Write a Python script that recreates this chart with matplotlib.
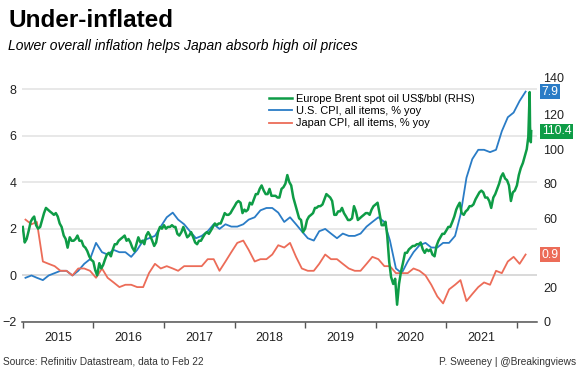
import numpy as np
import pandas as pd

import matplotlib
matplotlib.use('Agg')

import matplotlib.pyplot as plt
import matplotlib.dates as mdates
import matplotlib.ticker as mtick
import matplotlib.transforms as mtrans

plt.rcParams['font.family'] = ['Liberation Sans', 'DejaVu Sans']

# Dated Brent, US$/bbl, sampled on the 1st, 11th and 21st of each month
brent_2015 = [55, 46, 48, 53, 58, 60, 61, 56, 54, 55, 59, 63, 66, 65, 64, 63, 62, 63,
              61, 57, 55, 50, 48, 43, 49, 47, 47, 48, 50, 47, 47, 44, 43, 41, 38, 36]
brent_2016 = [35, 30, 27, 34, 31, 33, 36, 39, 40, 38, 42, 45, 45, 47, 48, 49, 50, 47,
              48, 46, 43, 41, 45, 49, 46, 47, 45, 50, 52, 50, 47, 44, 46, 52, 55, 54]
brent_2017 = [56, 54, 55, 55, 56, 55, 55, 51, 50, 52, 55, 52, 49, 50, 52, 49, 46, 45,
              47, 47, 49, 51, 52, 51, 53, 55, 57, 56, 57, 57, 60, 63, 62, 62, 63, 65]
brent_2018 = [67, 69, 70, 69, 63, 65, 64, 65, 69, 68, 71, 74, 74, 77, 79, 76, 74, 74,
              77, 73, 73, 73, 72, 72, 77, 78, 80, 85, 81, 79, 72, 68, 64, 60, 59, 52]
brent_2019 = [54, 59, 61, 62, 63, 66, 66, 67, 67, 68, 71, 74, 73, 72, 70, 62, 62, 64,
              64, 66, 63, 61, 59, 59, 60, 67, 64, 59, 60, 61, 62, 63, 63, 62, 65, 67]
brent_2020 = [68, 69, 63, 56, 56, 58, 50, 35, 26, 22, 25, 10, 22, 29, 34, 40, 40, 42,
              43, 44, 44, 45, 45, 46, 42, 40, 42, 41, 42, 39, 38, 44, 47, 49, 51, 51]
brent_2021 = [53, 55, 55, 58, 61, 65, 67, 69, 63, 62, 64, 65, 67, 67, 68, 71, 73, 75,
              76, 75, 72, 72, 70, 66, 72, 74, 77, 80, 84, 86, 83, 82, 79, 70, 75, 76]
brent_2022 = [79, 85, 89, 92, 96, 100]
brent_tail_dates = ['2022-03-01', '2022-03-04', '2022-03-08', '2022-03-10', '2022-03-14', '2022-03-16']
brent_tail = [107, 118, 133, 113, 104, 110.4]

# year-on-year CPI, %, Jan 2015 - Feb 2022
us_cpi = [-0.1, 0.0, -0.1, -0.2, 0.0, 0.1, 0.2, 0.2, 0.0, 0.2, 0.5, 0.7,
          1.4, 1.0, 0.9, 1.1, 1.0, 1.0, 0.8, 1.1, 1.5, 1.6, 1.7, 2.1,
          2.5, 2.7, 2.4, 2.2, 1.9, 1.6, 1.7, 1.9, 2.2, 2.0, 2.2, 2.1,
          2.1, 2.2, 2.4, 2.5, 2.8, 2.9, 2.9, 2.7, 2.3, 2.5, 2.2, 1.9,
          1.6, 1.5, 1.9, 2.0, 1.8, 1.6, 1.8, 1.7, 1.7, 1.8, 2.1, 2.3,
          2.5, 2.3, 1.5, 0.3, 0.1, 0.6, 1.0, 1.3, 1.4, 1.2, 1.2, 1.4,
          1.4, 1.7, 2.6, 4.2, 5.0, 5.4, 5.4, 5.3, 5.4, 6.2, 6.8, 7.0,
          7.5, 7.9]
japan_cpi = [2.4, 2.2, 2.3, 0.6, 0.5, 0.4, 0.2, 0.2, 0.0, 0.3, 0.3, 0.2,
             -0.1, 0.3, -0.1, -0.3, -0.5, -0.4, -0.4, -0.5, -0.5, 0.1, 0.5, 0.3,
             0.4, 0.3, 0.2, 0.4, 0.4, 0.4, 0.4, 0.7, 0.7, 0.2, 0.6, 1.0,
             1.4, 1.5, 1.1, 0.6, 0.7, 0.7, 0.9, 1.3, 1.2, 1.4, 0.8, 0.3,
             0.2, 0.2, 0.5, 0.9, 0.7, 0.7, 0.5, 0.3, 0.2, 0.2, 0.5, 0.8,
             0.7, 0.4, 0.4, 0.1, 0.1, 0.1, 0.3, 0.2, 0.0, -0.4, -0.9, -1.2,
             -0.6, -0.4, -0.2, -1.1, -0.8, -0.5, -0.3, -0.4, 0.2, 0.1, 0.6, 0.8,
             0.5, 0.9]

labels = ['Europe Brent spot oil US$/bbl (RHS)', 'U.S. CPI, all items, % yoy', 'Japan CPI, all items, % yoy']
# the 40 label sits under the Japan value box in the original
rhs_ticks = [0, 20, 40, 60, 80, 100, 120, 140]
rhs_labels = ['0', '20', '', '60', '80', '100', '120', '140']

GREEN = '#0e9c46'
BLUE = '#2a7cc6'
RED = '#ec6c58'


def main():
    months = pd.date_range('2015-01-01', '2022-02-01', freq='MS')
    brent_dates = [m + pd.Timedelta(days=d) for m in months for d in (0, 10, 20)]
    brent_dates += list(pd.to_datetime(brent_tail_dates))
    brent = brent_2015 + brent_2016 + brent_2017 + brent_2018 + brent_2019 + brent_2020 + brent_2021 + brent_2022 + brent_tail
    cpi_dates = months + pd.Timedelta(days=14)

    fig = plt.figure(figsize=(5.8, 3.72), dpi=100)
    ax = fig.add_axes([22 / 580, 1 - 322 / 372, 515 / 580, 242 / 372])
    ax2 = ax.twinx()

    l_us, = ax.plot(cpi_dates, us_cpi, color=BLUE, lw=1.3, zorder=3)
    l_jp, = ax.plot(cpi_dates, japan_cpi, color=RED, lw=1.3, zorder=3)
    l_oil, = ax2.plot(brent_dates, brent, color=GREEN, lw=1.8, zorder=3)

    ax.set_ylim(-2, 8.4)
    ax2.set_ylim(0, 140)
    ax.set_xlim(pd.Timestamp('2014-12-28'), pd.Timestamp('2022-04-15'))

    ax.set_yticks(range(-2, 9, 2))
    ax2.set_yticks(rhs_ticks, rhs_labels)
    ax.grid(axis='y', color='#e4e4e4', lw=1.2, zorder=0)
    ax.axhline(0, color='#a8a8a8', lw=1.4, zorder=1)

    for a in (ax, ax2):
        for s in ('top', 'left', 'right'):
            a.spines[s].set_visible(False)
    ax2.spines['bottom'].set_visible(False)
    ax.spines['bottom'].set_color('#555555')
    ax.spines['bottom'].set_linewidth(1.1)

    ax.xaxis.set_major_locator(mdates.YearLocator())
    ax.xaxis.set_major_formatter(mtick.NullFormatter())
    ax.xaxis.set_minor_locator(mdates.MonthLocator(bymonth=7))
    ax.xaxis.set_minor_formatter(mdates.DateFormatter('%Y'))
    ax.tick_params(axis='x', which='major', length=4, width=1, color='#555555')
    ax.tick_params(axis='x', which='minor', length=0, pad=7.5, labelsize=9, labelcolor='#222222')
    ax.tick_params(axis='y', length=0, pad=4, labelsize=9, labelcolor='#222222')
    ax2.tick_params(axis='y', length=0, pad=4.5, labelsize=9, labelcolor='#222222')

    # nudge the top RHS label up a little so the 7.9 box does not touch it
    top = ax2.yaxis.get_major_ticks()[-1].label2
    top.set_transform(top.get_transform() + mtrans.ScaledTranslation(0, 1.5 / 72, fig.dpi_scale_trans))

    fig.legend([l_oil, l_us, l_jp], labels, loc='upper left', bbox_to_anchor=(269 / 580, 1 - 94 / 372),
               frameon=False, fontsize=7.9, handlelength=2.1, handletextpad=0.4, labelspacing=0.2,
               borderpad=0, borderaxespad=0)

    # value boxes on the right edge
    left_tr = mtrans.blended_transform_factory(ax2.transAxes, ax.transData)
    right_tr = mtrans.blended_transform_factory(ax2.transAxes, ax2.transData)
    box_font = dict(fontsize=8.8, color='white', va='center', ha='left', clip_on=False, zorder=10)
    ax2.text(1.009, us_cpi[-1], '7.9', transform=left_tr,
             bbox=dict(boxstyle='square,pad=0.12', fc=BLUE, ec='none'), **box_font)
    ax2.text(1.009, brent[-1], '110.4', transform=right_tr,
             bbox=dict(boxstyle='square,pad=0.12', fc=GREEN, ec='none'), **box_font)
    ax2.text(1.009, japan_cpi[-1], '0.9', transform=left_tr,
             bbox=dict(boxstyle='square,pad=0.12', fc=RED, ec='none'), **box_font)

    fig.text(8 / 580, 1 - 27 / 372, 'Under-inflated', fontsize=17.5, weight='bold', va='baseline')
    fig.text(8 / 580, 1 - 50 / 372, 'Lower overall inflation helps Japan absorb high oil prices',
             fontsize=10, style='italic', va='baseline')
    fig.text(3 / 580, 1 - 365 / 372, 'Source: Refinitiv Datastream, data to Feb 22', fontsize=7.3,
             color='#333333', va='baseline')
    fig.text(576 / 580, 1 - 365 / 372, 'P. Sweeney | @Breakingviews', fontsize=7.3,
             color='#333333', va='baseline', ha='right')

    plt.savefig('out.png', dpi=100)
    plt.close()


if __name__ == '__main__':
    main()
